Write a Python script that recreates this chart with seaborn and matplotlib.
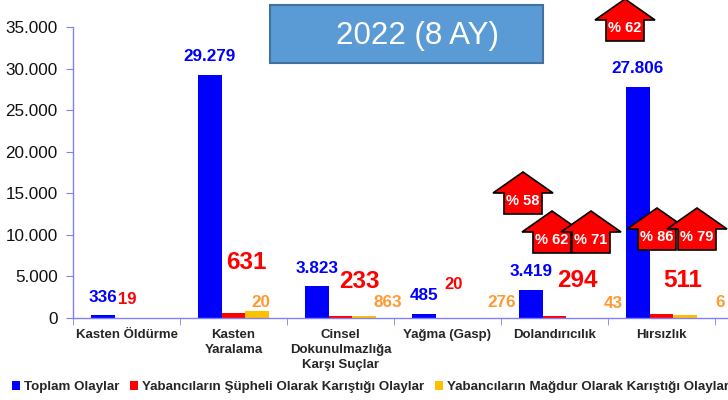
import matplotlib
matplotlib.use('Agg')
import matplotlib.pyplot as plt
import seaborn as sns
import pandas as pd
from matplotlib.patches import Polygon, Rectangle, Patch
from matplotlib.ticker import FuncFormatter

# Veriler
categories = ['Kasten Öldürme', 'Kasten\nYaralama', 'Cinsel\nDokunulmazlığa\nKarşı Suçlar',
              'Yağma (Gasp)', 'Dolandırıcılık', 'Hırsızlık']
series = ['Toplam Olaylar',
          'Yabancıların Şüpheli Olarak Karıştığı Olaylar',
          'Yabancıların Mağdur Olarak Karıştığı Olaylar']
toplam = [336, 29279, 3823, 485, 3419, 27806]
supheli = [19, 631, 233, 20, 294, 511]
magdur = [20, 863, 276, 43, 0, 380]
magdur_labels = ['', '20', '863', '276', '43', '6']
artis_labels = ['% 58', '% 62', '% 71', '% 86', '% 79', '% 62']
title = '2022 (8 AY)'

colors = ['#0000FF', '#FF0000', '#FFC000']
label_colors = ['#0000FF', '#FF0000', '#FF9933']

df = pd.DataFrame({
    'kategori': categories * 3,
    'seri': [s for s in series for _ in categories],
    'deger': toplam + supheli + magdur,
})

sns.set_style('white')
plt.rcParams['font.family'] = ['Liberation Sans', 'DejaVu Sans']

W, H = 728, 400
fig = plt.figure(figsize=(W / 100, H / 100), dpi=100)
ax = fig.add_axes([73 / W, 82 / H, 655 / W, 291 / H])

sns.barplot(data=df, x='kategori', y='deger', hue='seri', palette=colors,
            width=0.67, saturation=1, legend=False, ax=ax, linewidth=0)

ax.set_xlim(-0.5, -0.5 + 655 / 107)
ax.set_ylim(0, 35000)
ax.set_yticks(range(0, 35001, 5000))
ax.yaxis.set_major_formatter(FuncFormatter(lambda v, p: f'{int(v):,}'.replace(',', '.')))
ax.set_xlabel('')
ax.set_ylabel('')

axis_col = '#8080FF'
for s in ['top', 'right']:
    ax.spines[s].set_visible(False)
for s in ['left', 'bottom']:
    ax.spines[s].set_color(axis_col)
    ax.spines[s].set_linewidth(1)

ax.tick_params(axis='y', direction='out', length=5, color=axis_col, labelsize=12.3,
               labelcolor='#111111', pad=6, left=True)
ax.tick_params(axis='x', which='major', length=0, pad=8)
ax.set_xticks([i - 0.5 for i in range(len(categories) + 1)], minor=True)
ax.tick_params(axis='x', which='minor', direction='out', length=5, color=axis_col, bottom=True)
for lbl in ax.get_xticklabels():
    lbl.set_fontsize(9.5)
    lbl.set_fontweight('bold')
    lbl.set_linespacing(1.3)
    lbl.set_verticalalignment('top')

# Değer etiketleri (piksel ofsetleri)
red_dx = [1, 13, 18.5, 6.5, 23, 21.5]
red_dy = [18, 50, 35, 33.5, 35, 33]
org_dx = [0, 3, 23, 30, 34.5, 35]
org_dy = [0, 8, 13, 15, 15, 12]
red_size = [12, 17.5, 17.5, 12, 17.5, 17.5]

for i, bar in enumerate(ax.containers[0]):
    ax.annotate(f'{toplam[i]:,}'.replace(',', '.'),
                xy=(bar.get_x() + bar.get_width() / 2, bar.get_height()),
                xytext=(0, 18), textcoords='offset pixels', ha='center', va='center',
                color=label_colors[0], fontsize=12.3, fontweight='bold')
for i, bar in enumerate(ax.containers[1]):
    ax.annotate(str(supheli[i]),
                xy=(bar.get_x() + bar.get_width() / 2, bar.get_height()),
                xytext=(red_dx[i], red_dy[i]), textcoords='offset pixels', ha='center', va='center',
                color=label_colors[1], fontsize=red_size[i], fontweight='bold')
for i, bar in enumerate(ax.containers[2]):
    if not magdur_labels[i]:
        continue
    ax.annotate(magdur_labels[i],
                xy=(bar.get_x() + bar.get_width() / 2, bar.get_height()),
                xytext=(org_dx[i], org_dy[i]), textcoords='offset pixels', ha='center', va='center',
                color=label_colors[2], fontsize=12.3, fontweight='bold', annotation_clip=False)


def px(x, y):
    return (x / W, 1 - y / H)


# Başlık kutusu
fig.patches.append(Rectangle(px(270, 63), (543 - 270) / W, (63 - 5) / H, transform=fig.transFigure,
                             facecolor='#5B9BD5', edgecolor='#41719C', linewidth=1.5))
fig.text(*px(417, 36), title, color='white', fontsize=22.5, ha='center', va='center')

# Artış okları
arrows = [(523, 172), (552, 211), (591, 211), (657, 208), (697, 208), (625, -1)]
for (cx, ty), txt in zip(arrows, artis_labels):
    pts = [(cx, ty), (cx + 30, ty + 21), (cx + 19, ty + 21), (cx + 19, ty + 42),
           (cx - 19, ty + 42), (cx - 19, ty + 21), (cx - 30, ty + 21)]
    fig.patches.append(Polygon([px(x, y) for x, y in pts], closed=True, transform=fig.transFigure,
                               facecolor='#FF0000', edgecolor='black', linewidth=1.2))
    fig.text(*px(cx, ty + 29), txt, color='white', fontsize=10.5, fontweight='bold',
             ha='center', va='center')

# Lejant
handles = [Patch(facecolor=c, edgecolor='none', label=s) for c, s in zip(colors, series)]
leg = fig.legend(handles=handles, loc='center left', bbox_to_anchor=(12 / W, 1 - 387 / H),
                 ncol=3, frameon=False, borderpad=0, borderaxespad=0, handlelength=0.6,
                 handleheight=0.6, handletextpad=0.3, columnspacing=0.8,
                 prop={'size': 9.6, 'weight': 'bold'})

fig.savefig('out.png', dpi=100)
